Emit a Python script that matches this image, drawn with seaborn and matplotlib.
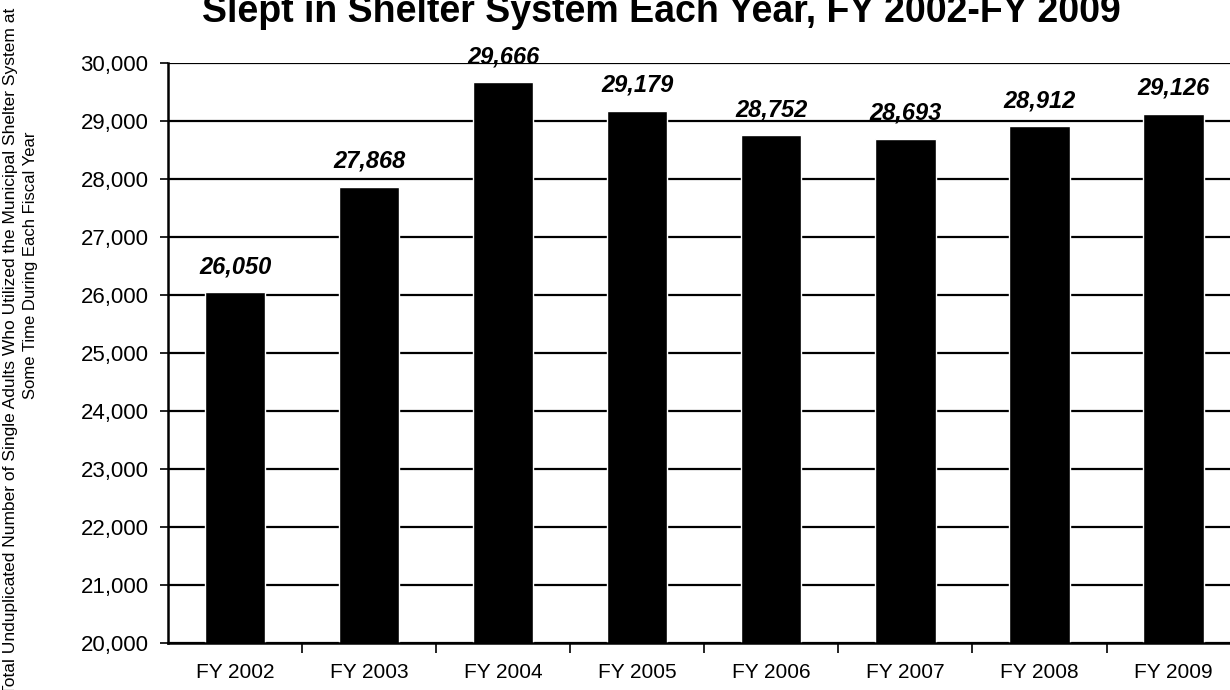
import matplotlib
matplotlib.use("Agg")
import matplotlib.pyplot as plt
import seaborn as sns
import pandas as pd
from matplotlib.ticker import FuncFormatter, FixedLocator

categories = ["FY 2002", "FY 2003", "FY 2004", "FY 2005", "FY 2006", "FY 2007", "FY 2008", "FY 2009"]
values = [26050, 27868, 29666, 29179, 28752, 28693, 28912, 29126]
y_ticks = [20000, 21000, 22000, 23000, 24000, 25000, 26000, 27000, 28000, 29000, 30000]

title_text = "Slept in Shelter System Each Year, FY 2002-FY 2009"
ylabel_line1 = "Total Unduplicated Number of Single Adults Who Utilized the Municipal Shelter System at"
ylabel_line2 = "Some Time During Each Fiscal Year"

sns.set_theme(style="white")
plt.rcParams["font.family"] = ["Liberation Sans", "DejaVu Sans"]

df = pd.DataFrame({"year": categories, "count": values})

fig = plt.figure(figsize=(12.3, 6.9), dpi=100)
ax = fig.add_axes([0.1366, 0.068, 0.872, 0.8406])

ax.set_axisbelow(True)
for yv in y_ticks:
    ax.axhline(yv, color="black", linewidth=1.6, zorder=0)

sns.barplot(data=df, x="year", y="count", color="black", width=0.45,
            saturation=1, ax=ax, zorder=2)

ax.set_ylim(20000, 30000)
ax.set_xlim(-0.5, len(categories) - 0.5)
ax.set_yticks(y_ticks)
ax.yaxis.set_major_formatter(FuncFormatter(lambda v, p: f"{int(v):,}"))
ax.tick_params(axis="y", labelsize=16, length=6, width=1.2, color="black",
               direction="out", left=True, pad=8, labelcolor="black")
ax.tick_params(axis="x", labelsize=15, length=0, pad=14, labelcolor="black")
ax.xaxis.set_minor_locator(FixedLocator([i + 0.5 for i in range(len(categories) - 1)]))
ax.tick_params(axis="x", which="minor", bottom=True, length=7, width=1.2,
               color="black", direction="out")

ax.set_xlabel("")
ax.set_ylabel("")

for side in ["top", "right"]:
    ax.spines[side].set_visible(False)
for side in ["left", "bottom"]:
    ax.spines[side].set_color("black")
    ax.spines[side].set_linewidth(1.8)

for i, v in enumerate(values):
    ax.annotate(f"{v:,}", xy=(i, v), xytext=(0, 10), textcoords="offset points",
                ha="center", va="bottom", fontsize=17, fontweight="bold",
                fontstyle="italic", color="black")

fig.text(0.538, 1 - 22 / 690, title_text, ha="center", va="baseline",
         fontsize=27, fontweight="bold", color="black")

fig.text(11 / 1230, 1 - 8 / 690, ylabel_line1, rotation=90, ha="center", va="top",
         fontsize=12.5, color="black")
fig.text(31 / 1230, 1 - 265 / 690, ylabel_line2, rotation=90, ha="center", va="center",
         fontsize=12, color="black")

fig.savefig("out.png", dpi=100)
